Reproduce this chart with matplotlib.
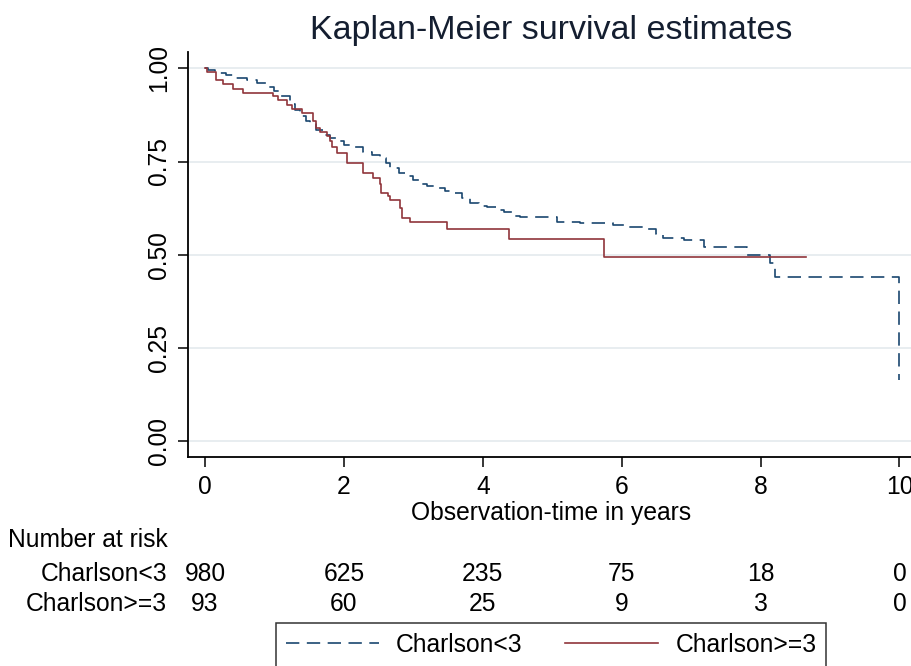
import numpy as np
import matplotlib
matplotlib.use("Agg")
import matplotlib.pyplot as plt
from matplotlib.transforms import blended_transform_factory

plt.rcParams['font.family'] = ['Liberation Sans', 'DejaVu Sans']

# Kaplan-Meier step estimates
low_t = [0.00, 0.05, 0.15, 0.30, 0.45, 0.60, 0.75, 0.90, 1.00, 1.10, 1.22, 1.30,
         1.37, 1.45, 1.51, 1.60, 1.70, 1.80, 1.90, 2.00, 2.10, 2.28, 2.40, 2.52,
         2.60, 2.67, 2.80, 2.91, 3.00, 3.10, 3.20, 3.34, 3.45, 3.57, 3.70, 3.82,
         3.95, 4.06, 4.20, 4.30, 4.45, 4.54, 5.07, 5.40, 5.88, 6.08, 6.37, 6.50,
         6.60, 6.89, 7.18, 7.81, 8.14, 8.21, 10.0]
low_s = [1.000, 0.995, 0.988, 0.982, 0.975, 0.968, 0.960, 0.950, 0.940, 0.925,
         0.905, 0.888, 0.872, 0.860, 0.850, 0.835, 0.820, 0.812, 0.805, 0.795,
         0.788, 0.775, 0.768, 0.760, 0.745, 0.732, 0.720, 0.710, 0.700, 0.690,
         0.685, 0.680, 0.672, 0.665, 0.652, 0.640, 0.632, 0.627, 0.620, 0.614,
         0.605, 0.600, 0.588, 0.584, 0.579, 0.574, 0.570, 0.556, 0.544, 0.539,
         0.522, 0.500, 0.478, 0.440, 0.165]

high_t = [0.00, 0.03, 0.16, 0.26, 0.40, 0.55, 0.98, 1.05, 1.18, 1.25, 1.40, 1.55,
          1.60, 1.65, 1.75, 1.80, 1.83, 1.90, 2.04, 2.28, 2.42, 2.52, 2.53, 2.64,
          2.67, 2.81, 2.84, 2.95, 3.49, 4.37, 5.74, 8.65]
high_s = [1.000, 0.989, 0.968, 0.957, 0.946, 0.935, 0.925, 0.914, 0.903, 0.892,
          0.880, 0.860, 0.839, 0.828, 0.818, 0.806, 0.790, 0.772, 0.745, 0.718,
          0.705, 0.690, 0.665, 0.658, 0.646, 0.625, 0.598, 0.587, 0.570, 0.542,
          0.494, 0.494]

risk_times = [0, 2, 4, 6, 8, 10]
risk_low = [980, 625, 235, 75, 18, 0]
risk_high = [93, 60, 25, 9, 3, 0]
labels = ['Charlson<3', 'Charlson>=3']

navy = '#1a476f'
maroon = '#90353b'
W, H = 912, 666
fs = 17.7

fig = plt.figure(figsize=(W / 100, H / 100), dpi=100)
ax = fig.add_axes([188 / W, (H - 456.7) / H, (912 - 188) / W, (456.7 - 52) / H])

ax.step(low_t, low_s, where='post', color=navy, lw=1.2, ls=(0, (8, 4.5)),
        label=labels[0])
ax.step(high_t, high_s, where='post', color=maroon, lw=1.2, label=labels[1])

ax.set_xlim(-0.245, 10.18)
ax.set_ylim(-0.042, 1.044)
ax.set_xticks(risk_times)
ax.set_yticks([0, 0.25, 0.5, 0.75, 1.0])
ax.set_yticklabels(['0.00', '0.25', '0.50', '0.75', '1.00'], rotation=90, va='center')
ax.tick_params(axis='x', length=7.2, width=1.1, pad=6, labelsize=fs)
ax.tick_params(axis='y', length=7.2, width=1.1, pad=5, labelsize=fs)
ax.yaxis.grid(True, color='#e4eaee', lw=1.2)
ax.set_axisbelow(True)
for s in ['top', 'right']:
    ax.spines[s].set_visible(False)
for s in ['left', 'bottom']:
    ax.spines[s].set_linewidth(1.3)

fig.text(551 / W, 1 - 39 / H, 'Kaplan-Meier survival estimates', fontsize=24.5,
         ha='center', va='baseline', color='#141e30')
fig.text(551 / W, 1 - 520 / H, 'Observation-time in years', fontsize=fs,
         ha='center', va='baseline')

# number at risk table
fig.text(168 / W, 1 - 547 / H, 'Number at risk', fontsize=fs, ha='right', va='baseline')
tr = blended_transform_factory(ax.transData, fig.transFigure)
for row, (lab, vals) in enumerate(zip(labels, [risk_low, risk_high])):
    yb = 1 - [581, 611][row] / H
    fig.text(167 / W, yb, lab, fontsize=fs, ha='right', va='baseline')
    for t, v in zip(risk_times, vals):
        ax.text(t, yb, str(v), fontsize=fs, ha='center', va='baseline',
                transform=tr, clip_on=False)

leg = fig.legend(loc='upper center', bbox_to_anchor=(551 / W, 1 - 623 / H), ncol=2,
                 fontsize=fs, frameon=True, fancybox=False, handlelength=3.8,
                 handletextpad=0.7, columnspacing=1.7, borderpad=0.4,
                 borderaxespad=0)
leg.get_frame().set_edgecolor('black')
leg.get_frame().set_linewidth(1.1)

fig.savefig('out.png', dpi=100)
